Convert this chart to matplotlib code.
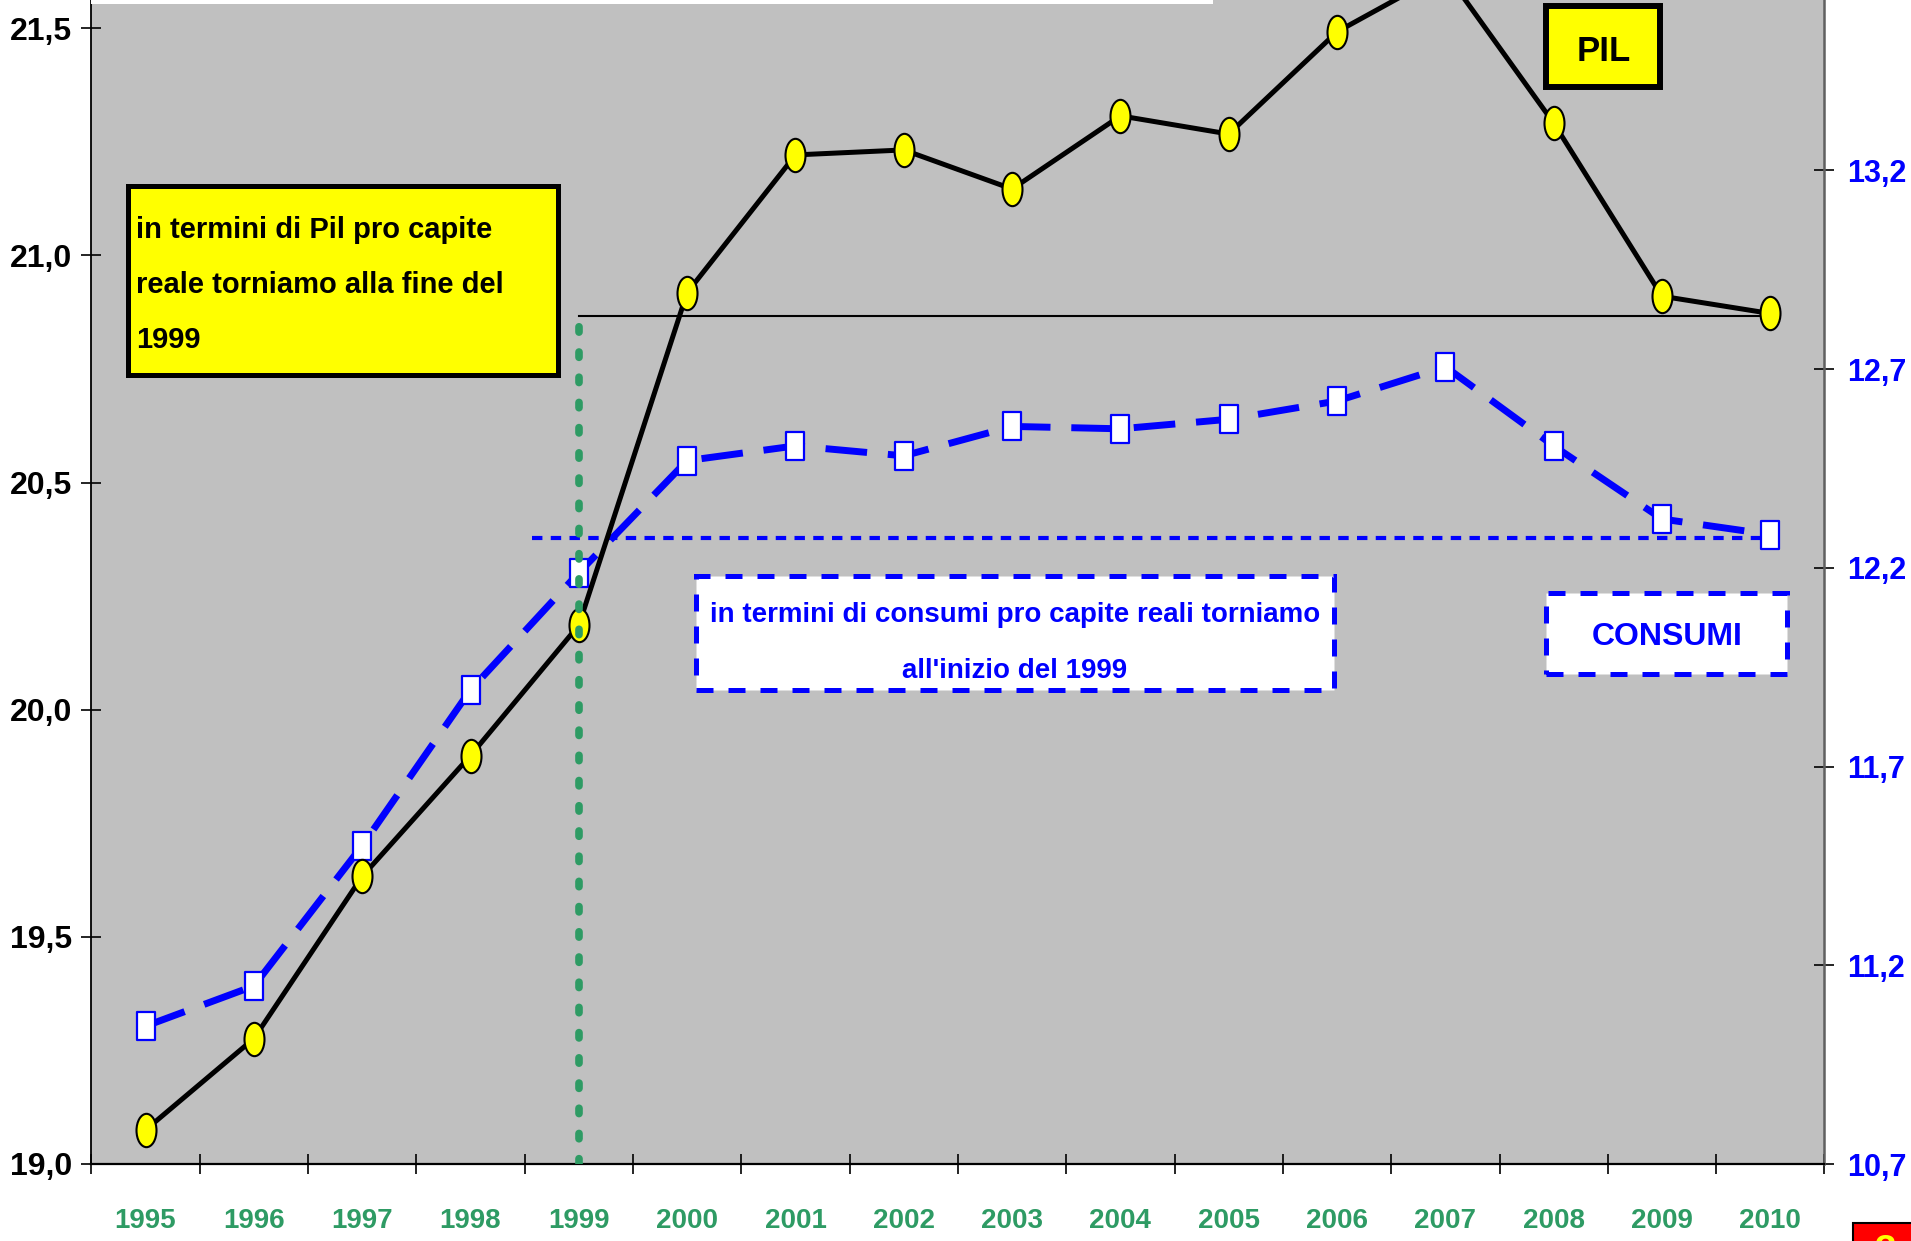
import numpy as np
import matplotlib
matplotlib.use("Agg")
import matplotlib.pyplot as plt
from matplotlib import font_manager
from matplotlib.font_manager import FontProperties
from matplotlib.path import Path
from matplotlib.patches import Rectangle
from matplotlib.transforms import Affine2D

# --- data ---
years = ["1995", "1996", "1997", "1998", "1999", "2000", "2001", "2002",
         "2003", "2004", "2005", "2006", "2007", "2008", "2009", "2010"]
pil = [19.075, 19.276, 19.633, 19.899, 20.186, 20.918, 21.221, 21.232,
       21.146, 21.307, 21.267, 21.492, 21.623, 21.291, 20.910, 20.872]
consumi = [11.047, 11.148, 11.501, 11.893, 12.188, 12.470, 12.507, 12.482,
           12.556, 12.550, 12.574, 12.620, 12.706, 12.507, 12.323, 12.284]
left_ticks = [19.0, 19.5, 20.0, 20.5, 21.0, 21.5]
right_ticks = [10.7, 11.2, 11.7, 12.2, 12.7, 13.2]
pil_ref = 20.867      # livello fine 1999 (Pil)
consumi_ref = 12.275  # livello inizio 1999 (consumi)
ref_year = "1999"
consumi_ref_start = 3.57  # where the blue dashed reference begins (category units)

W, H = 1911, 1241
GREEN = "#2E9B64"
BLUE = "#0000FF"
GREY = "#C0C0C0"

# the original uses a narrow bold face; use one if installed, else shrink sizes
narrow = [f.fname for f in font_manager.fontManager.ttflist
          if "LiberationSansNarrow-Bold." in f.fname]
if narrow:
    SCALE = 1.2
    def fp(size):
        return FontProperties(fname=narrow[0], size=size * SCALE)
else:
    def fp(size):
        return FontProperties(family=["Liberation Sans", "DejaVu Sans"],
                              weight="bold", size=size)

fig = plt.figure(figsize=(W / 100, H / 100), dpi=100)
ax_left, ax_right, ax_bottom = 91.4, 1824.5, 1164
ax2 = fig.add_axes([ax_left / W, (H - ax_bottom) / H, (ax_right - ax_left) / W, ax_bottom / H])
ax = ax2.twinx()
ax.set_zorder(ax2.get_zorder() + 1)
ax.patch.set_visible(False)
ax2.set_facecolor(GREY)

x = np.arange(len(years))
ref_x = years.index(ref_year)

# markers: tall ellipse and tall rectangle
ellipse = Path.unit_circle().transformed(Affine2D().scale(0.6, 1.0))
rect = Path([(-0.32, -0.5), (0.32, -0.5), (0.32, 0.5), (-0.32, 0.5), (-0.32, -0.5)],
            [Path.MOVETO, Path.LINETO, Path.LINETO, Path.LINETO, Path.CLOSEPOLY])

# consumi (right axis)
ax2.plot(x, consumi, color=BLUE, lw=5, dashes=(6, 3), dash_capstyle="butt",
         marker=rect, markersize=20, markerfacecolor="white",
         markeredgecolor=BLUE, markeredgewidth=1.6, zorder=3)
ax2.plot([consumi_ref_start, x[-1]], [consumi_ref, consumi_ref], color=BLUE, lw=3,
         dashes=(2.5, 2), zorder=2)

# Pil (left axis)
ax.plot([ref_x, x[-1]], [pil_ref, pil_ref], color="black", lw=1.5, zorder=2)
ax.plot(x, pil, color="black", lw=3.6, marker=ellipse, markersize=24,
        markerfacecolor="#FFFF00", markeredgecolor="black", markeredgewidth=1.5, zorder=3)
ax.plot([ref_x, ref_x], [left_ticks[0], pil_ref], color=GREEN, lw=5.5,
        dashes=(0.7, 2.6), dash_capstyle="round", zorder=4)

ax.set_xlim(-0.5, len(years) - 0.5)
ax.set_ylim(19.0, 21.562)
ax2.set_ylim(10.7, 13.629)


def comma(vals):
    return [f"{v:.1f}".replace(".", ",") for v in vals]


# left axis on the twin "ax": move its ticks to the left
ax.yaxis.set_ticks_position("left")
ax.set_yticks(left_ticks, comma(left_ticks), fontproperties=fp(23), color="black")
ax.tick_params(axis="y", direction="inout", length=14, width=1.2, pad=7)

ax2.yaxis.set_ticks_position("right")
ax2.set_yticks(right_ticks, comma(right_ticks), fontproperties=fp(22), color=BLUE)
ax2.tick_params(axis="y", direction="inout", length=14, width=1.2, pad=9)

ax2.set_xticks(np.arange(len(years) + 1) - 0.5)
ax2.set_xticks(x, years, minor=True, fontproperties=fp(20), color=GREEN)
ax2.tick_params(axis="x", which="major", direction="inout", length=14, width=1.2,
                labelbottom=False)
ax2.tick_params(axis="x", which="minor", length=0, pad=32)
ax.tick_params(axis="x", which="both", length=0, labelbottom=False)

for s in ("top", "right", "bottom"):
    ax.spines[s].set_visible(False)
ax.spines["left"].set_linewidth(1.3)
ax2.spines["top"].set_visible(False)
ax2.spines["left"].set_visible(False)
ax2.spines["bottom"].set_linewidth(1.6)
ax2.spines["right"].set_color("#606060")
ax2.spines["right"].set_linewidth(1.8)


def box(x0, y0, x1, y1, face, edge, lw, dashes=None, z=5):
    r = Rectangle((x0 / W, 1 - y1 / H), (x1 - x0) / W, (y1 - y0) / H,
                  transform=fig.transFigure, facecolor=face, edgecolor=edge,
                  linewidth=lw, joinstyle="miter", zorder=z)
    if dashes is not None:
        r.set_linestyle((0, dashes))
    fig.add_artist(r)


def label(xp, yp, s, color, size, ha="left"):
    fig.text(xp / W, 1 - yp / H, s, color=color, fontproperties=fp(size), ha=ha,
             va="baseline", zorder=6)


# white strip at the top (cut-off title box)
box(91, -10, 1213, 4, "white", "none", 0)

# yellow note on Pil
box(127.5, 186.5, 557.5, 374.5, "#FFFF00", "black", 3.6)
label(136, 238, "in termini di Pil pro capite", "black", 21)
label(136, 293, "reale torniamo alla fine del", "black", 21)
label(136, 348, "1999", "black", 21)

# PIL tag
box(1546, 6, 1660, 87, "#FFFF00", "black", 4.3)
label(1604, 61, "PIL", "black", 25, ha="center")

# consumi note
box(696, 576, 1334, 690, "white", BLUE, 3.6, dashes=(3.4, 3))
label(1015, 622, "in termini di consumi pro capite reali torniamo", BLUE, 20, ha="center")
label(1015, 678, "all'inizio del 1999", BLUE, 20, ha="center")

# CONSUMI tag
box(1546, 593, 1787, 674, "white", BLUE, 3.6, dashes=(3.4, 3))
label(1667, 645, "CONSUMI", BLUE, 23, ha="center")

# page badge, cut off at the bottom edge
box(1853, 1223, 1925, 1260, "#FF0000", "black", 1.5)
label(1885, 1262, "3", "#FFFF00", 28, ha="center")

fig.savefig("out.png", dpi=100)
